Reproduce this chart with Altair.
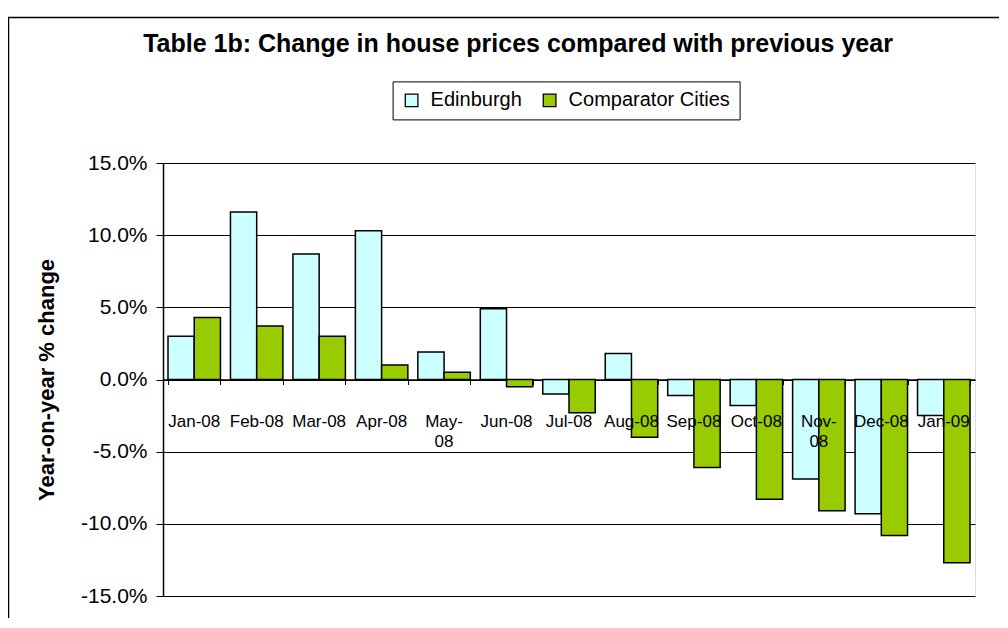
import altair as alt
import pandas as pd

months = ["Jan-08", "Feb-08", "Mar-08", "Apr-08", "May-08", "Jun-08", "Jul-08",
          "Aug-08", "Sep-08", "Oct-08", "Nov-08", "Dec-08", "Jan-09"]
month_labels = ["Jan-08", "Feb-08", "Mar-08", "Apr-08", "May-\n08", "Jun-08", "Jul-08",
                "Aug-08", "Sep-08", "Oct-08", "Nov-\n08", "Dec-08", "Jan-09"]
series_names = ["Edinburgh", "Comparator Cities"]
edinburgh = [3.0, 11.6, 8.7, 10.3, 1.9, 4.9, -1.0, 1.8, -1.1, -1.8, -6.9, -9.3, -2.5]
comparator = [4.3, 3.7, 3.0, 1.0, 0.5, -0.5, -2.3, -4.0, -6.1, -8.3, -9.1, -10.8, -12.7]
y_ticks = [-15, -10, -5, 0, 5, 10, 15]
colors = ["#CCFFFF", "#99CC00"]

rows = []
for m, e, c in zip(months, edinburgh, comparator):
    rows.append({"month": m, "series": series_names[0], "value": e})
    rows.append({"month": m, "series": series_names[1], "value": c})
df = pd.DataFrame(rows)
lab_df = pd.DataFrame({"month": months, "label": month_labels})

FONT = "Liberation Sans"
W, H = 812, 433

x_scale = alt.Scale(domain=months, paddingInner=0.16, paddingOuter=0.08)
y_scale = alt.Scale(domain=[-15, 15], nice=False, zero=False)

bars = alt.Chart(df).mark_bar(stroke="black", strokeWidth=1.5).encode(
    x=alt.X("month:N", sort=months, scale=x_scale,
            axis=alt.Axis(title=None, labels=False, offset=-H / 2, tickBand="extent",
                          tickSize=5, tickColor="black", tickWidth=1,
                          domainColor="black", domainWidth=1.5, grid=False)),
    xOffset=alt.XOffset("series:N", sort=series_names,
                        scale=alt.Scale(domain=series_names)),
    y=alt.Y("value:Q", scale=y_scale,
            axis=alt.Axis(values=y_ticks,
                          labelExpr="(datum.value < 0 ? '-' : '') + format(abs(datum.value), '.1f') + '%'",
                          labelFontSize=21, labelFont=FONT, labelColor="black",
                          labelPadding=9, tickSize=7, tickColor="black", tickWidth=1,
                          domainColor="black", domainWidth=1.5,
                          grid=True, gridColor="black", gridWidth=1,
                          title="Year-on-year % change", titleFont=FONT,
                          titleFontSize=22, titleFontWeight="bold", titleColor="black",
                          titleAngle=270, titleX=-117, titleY=H / 2,
                          titleAlign="center", titleBaseline="middle")),
    color=alt.Color("series:N", sort=series_names,
                    scale=alt.Scale(domain=series_names, range=colors),
                    legend=alt.Legend(orient="none", legendX=229.6, legendY=-81.6,
                                      direction="horizontal", title=None,
                                      strokeColor="black", fillColor="white",
                                      padding=9, symbolType="square", symbolSize=160,
                                      symbolStrokeColor="black", symbolStrokeWidth=1.3,
                                      labelFontSize=20, labelFont=FONT, labelColor="black",
                                      labelOffset=9, columnPadding=17, labelLimit=400)),
)

labels = alt.Chart(lab_df).mark_text(
    baseline="alphabetic", dy=47.5, lineBreak="\n", lineHeight=20,
    fontSize=17, font=FONT, color="black"
).encode(
    x=alt.X("month:N", sort=months, scale=x_scale),
    y=alt.datum(0),
    text="label:N",
)

border = alt.Chart(alt.Data(values=[{"b": 1}])).mark_rect(
    fill=None, stroke="black", strokeWidth=1.5
).encode(
    x=alt.value(-154.5), x2=alt.value(W + 40),
    y=alt.value(-145.5), y2=alt.value(H + 40),
)

chart = alt.layer(border, bars, labels).properties(
    width=W, height=H,
    padding={"left": 155, "top": 155, "right": 24, "bottom": 22},
    autosize=alt.AutoSizeParams(type="none"),
    title=alt.TitleParams(
        "Table 1b: Change in house prices compared with previous year",
        font=FONT, fontSize=25, fontWeight="bold", color="black",
        anchor="middle", frame="group", baseline="alphabetic", offset=0,
        dx=-51, dy=60),
    background="white",
).configure_view(stroke="#808080", strokeWidth=1.5).configure(font=FONT)

chart.save("out.html", embed_options={"renderer": "svg", "actions": False})
